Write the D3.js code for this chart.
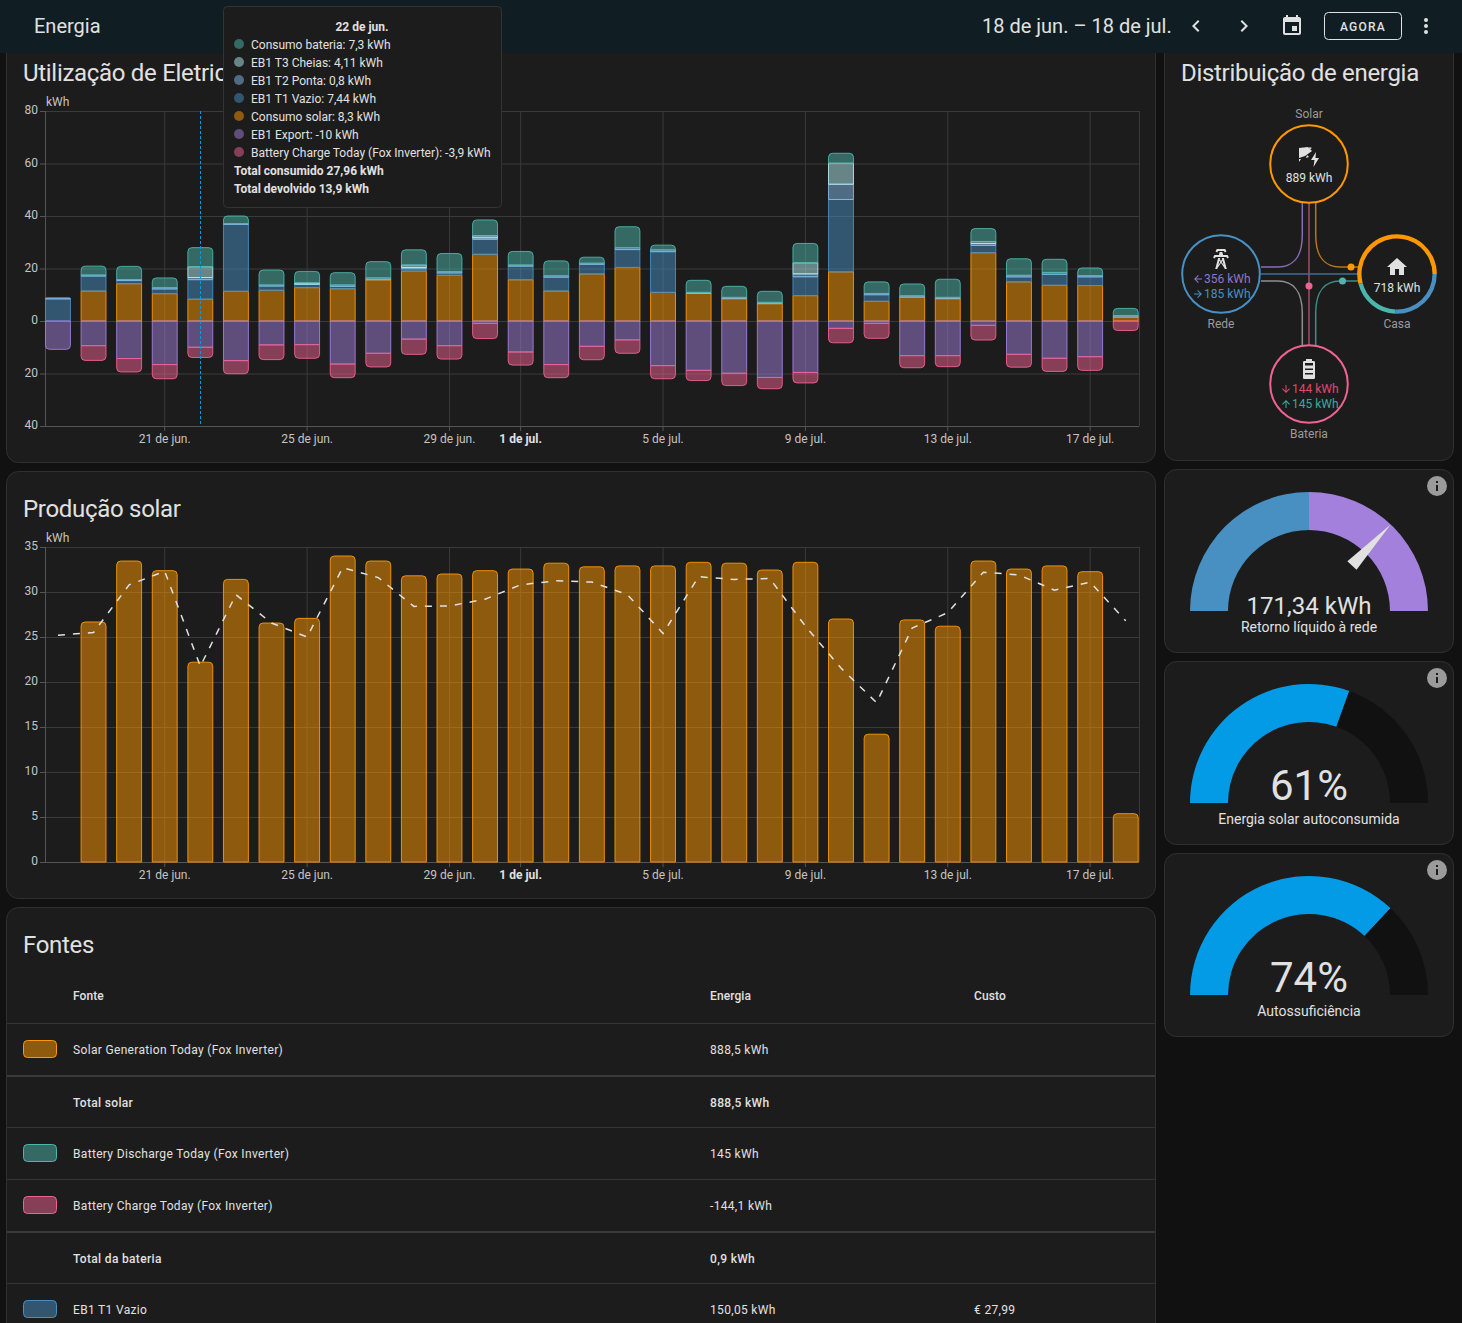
<!DOCTYPE html>
<html lang="pt">
<head>
<meta charset="utf-8">
<title>Energia</title>
<script src="https://cdn.jsdelivr.net/npm/d3@7/dist/d3.min.js"></script>
<style>
  html, body { margin: 0; background: #111; overflow: hidden; }
  svg { display: block; font-family: Roboto, sans-serif; }
</style>
</head>
<body>
<svg id="page" width="1462" height="1323"></svg>
<script>
// values
const days = ["18 de jun.","19 de jun.","20 de jun.","21 de jun.","22 de jun.","23 de jun.","24 de jun.","25 de jun.","26 de jun.","27 de jun.","28 de jun.","29 de jun.","30 de jun.","1 de jul.","2 de jul.","3 de jul.","4 de jul.","5 de jul.","6 de jul.","7 de jul.","8 de jul.","9 de jul.","10 de jul.","11 de jul.","12 de jul.","13 de jul.","14 de jul.","15 de jul.","16 de jul.","17 de jul.","18 de jul."];
const tickDays = ["21 de jun.","25 de jun.","29 de jun.","1 de jul.","5 de jul.","9 de jul.","13 de jul.","17 de jul."];

const solarUsed  = [0,11.4,14.2,10.4,8.3,11.3,11.7,12.7,12.3,15.7,19,17.4,25.4,15.7,11.4,17.9,20.4,10.9,10.5,8.5,6.6,9.65,18.7,7.5,9.1,8.5,26,14.9,13.6,13.5,1.5];
const t1Vazio    = [8.4,5.7,1.2,1.8,7.44,25.5,1.6,1.2,0.9,0,0.9,0.9,5.7,5.2,5.3,3.7,6.8,15.5,0,0,0,7.2,27.6,2.5,0,0,2.8,1.9,4.2,3.3,0];
const t2Ponta    = [0.4,0.4,0.4,0.5,0.8,0.3,0.4,0.2,0.5,0.7,0.5,0.5,0.6,0.4,0.5,0.4,0.7,0.7,0.4,0.5,0.5,1.1,5.8,0.5,0.5,0.5,0.7,0.6,0.7,0.5,0.6];
const t3Cheias   = [0,0,0,0,4.11,0,0,0.4,0,0,0.9,0,0.8,0,0,0,0,0,0,0,0,4.2,8,0,0,0,0.8,0,0,0,0];
const batteryOut = [0,3.4,5,3.7,7.3,2.9,5.7,4.4,4.7,6.2,5.8,6.9,6,5.2,5.7,2.3,8,1.8,4.6,4.2,4.2,7.4,3.8,4.4,4.5,6.9,4.9,6.3,5,2.9,2.7];
const gridExport = [-10.8,-9.4,-14.3,-16.6,-10,-15.1,-9.1,-9,-16.4,-12.3,-6.9,-9.4,-0.9,-11.8,-16.6,-9.65,-7.2,-17,-18.8,-19.9,-21.5,-19.6,-2.8,-0.9,-13.2,-13.2,-1.65,-12.7,-14.2,-13.6,0];
const batteryIn  = [0,-5.6,-5.1,-5.4,-3.9,-5,-5.6,-5.2,-5.2,-5.2,-5.8,-5.1,-5.8,-5,-5,-5.1,-5.1,-5,-3.9,-4.7,-4.3,-4,-5.5,-5.7,-4.6,-4.2,-5.6,-4.9,-5,-5.2,-3.6];

const solarProduction = [0,26.67,33.44,32.37,22.2,31.4,26.55,27.07,34,33.44,31.8,32,32.37,32.55,33.2,32.8,32.9,32.9,33.3,33.2,32.44,33.3,27,14.2,26.9,26.2,33.44,32.55,32.9,32.26,5.37];
const solarForecast = [25.2,25.5,30.8,32.3,21.75,29.7,26.55,25,32.7,31.6,28.4,28.45,29.2,30.8,31.25,31.1,29.7,25.4,31.7,31.4,31.5,26.2,21.55,17.7,26,27.7,32.2,31.9,30.2,31.1,26.8];

const usageTicks = [-40,-20,0,20,40,60,80];
const solarTicks = [0,5,10,15,20,25,30,35];

const tooltipTitle = "22 de jun.";
const tooltipRows = ["Consumo bateria: 7,3 kWh","EB1 T3 Cheias: 4,11 kWh","EB1 T2 Ponta: 0,8 kWh","EB1 T1 Vazio: 7,44 kWh","Consumo solar: 8,3 kWh","EB1 Export: -10 kWh","Battery Charge Today (Fox Inverter): -3,9 kWh"];
const tooltipTotals = ["Total consumido 27,96 kWh","Total devolvido 13,9 kWh"];

const homeSources = [185,145,388]; // rede, bateria, solar
const gaugeMax = 356, gaugeReturn = 171.34, selfConsumed = 61, selfSufficient = 74;

const tableRows = [
  ["solar","Solar Generation Today (Fox Inverter)","888,5 kWh",""],
  [null,"Total solar","888,5 kWh",""],
  ["out","Battery Discharge Today (Fox Inverter)","145 kWh",""],
  ["in","Battery Charge Today (Fox Inverter)","-144,1 kWh",""],
  [null,"Total da bateria","0,9 kWh",""],
  ["t1","EB1 T1 Vazio","150,05 kWh","€ 27,99"]
];

// stack order bottom to top, then downward
const seriesKeys = ["solar","t1","t2","t3","out","export","in"];
const seriesValues = {solar:solarUsed,t1:t1Vazio,t2:t2Ponta,t3:t3Cheias,out:batteryOut,export:gridExport,in:batteryIn};
const strokes = {solar:"#ff9800",t1:"#488fc2",t2:"#84bbe8",t3:"#b2ebf2",out:"#4db6ac",export:"#a280db",in:"#f06292"};

const TEXT = "#e1e1e1", MUTED = "#9b9b9b", CARD = "#1c1c1c", EDGE = "#303030";
const GRID = "#3a3a3a", AXIS = "#555";

const svg = d3.select("#page");
svg.append("rect").attr("width",1462).attr("height",1323).attr("fill","#111");

function label(g, x, y, str, opts = {}) {
  return g.append("text").attr("x",x).attr("y",y).text(str)
    .attr("fill",opts.fill || TEXT)
    .attr("font-size",opts.size || 12)
    .attr("font-weight",opts.weight || 400)
    .attr("text-anchor",opts.anchor || "start")
    .attr("letter-spacing",opts.spacing || null);
}

function title(x, y, str) {
  return label(svg, x, y, str, {size:24, spacing:-.3});
}

function icon(g, x, y, size, d, fill) {
  return g.append("path").attr("d",d).attr("fill",fill || TEXT)
    .attr("transform",`translate(${x},${y}) scale(${size/24})`);
}

function card(x, y, w, h) {
  svg.append("rect").attr("x",x+.5).attr("y",y+.5).attr("width",w-1).attr("height",h-1)
    .attr("rx",12).attr("fill",CARD).attr("stroke",EDGE);
}

// bar segment, only the outer end gets rounded
function barPath(x, y0, y1, w, roundEnd) {
  const top = Math.min(y0,y1), bot = Math.max(y0,y1);
  const r = Math.min(4, bot-top, w/2);
  const p = d3.path();
  if (roundEnd === "top") {
    p.moveTo(x,bot); p.lineTo(x,top+r);
    p.arcTo(x,top,x+r,top,r); p.lineTo(x+w-r,top);
    p.arcTo(x+w,top,x+w,top+r,r); p.lineTo(x+w,bot); p.closePath();
  } else if (roundEnd === "bottom") {
    p.moveTo(x,top); p.lineTo(x,bot-r);
    p.arcTo(x,bot,x+r,bot,r); p.lineTo(x+w-r,bot);
    p.arcTo(x+w,bot,x+w,bot-r,r); p.lineTo(x+w,top); p.closePath();
  } else {
    p.rect(x,top,w,bot-top);
  }
  return p.toString();
}

const plotLeft = 45, plotRight = 1139;
const xBand = d3.scaleBand().domain(days).range([plotLeft+.5,1138.2]).paddingInner(.3).paddingOuter(0);

function drawFrame(yScale, yTicks, yTop, yBottom, tickFmt) {
  const g = svg.append("g").attr("font-family","Roboto, sans-serif");
  const yAxis = d3.axisLeft(yScale).tickValues(yTicks).tickFormat(tickFmt).tickSize(5).tickSizeOuter(0);
  const ya = g.append("g").attr("transform",`translate(${plotLeft},0)`).call(yAxis);
  ya.select(".domain").remove();
  ya.selectAll("line").attr("stroke",AXIS);
  ya.selectAll("text").attr("fill","#c4c4c4").attr("font-size",12).attr("font-family","Roboto, sans-serif")
    .attr("x",-7).attr("y",-1);

  g.append("g").selectAll("line").data(yTicks).join("line")
    .attr("x1",plotLeft).attr("x2",plotRight)
    .attr("y1",d => yScale(d)+.5).attr("y2",d => yScale(d)+.5)
    .attr("stroke",GRID);

  g.append("g").selectAll("line").data(tickDays).join("line")
    .attr("x1",d => xBand(d)+xBand.bandwidth()/2).attr("x2",d => xBand(d)+xBand.bandwidth()/2)
    .attr("y1",yTop).attr("y2",yBottom).attr("stroke",GRID);
  g.append("line").attr("x1",plotLeft+.5).attr("x2",plotLeft+.5).attr("y1",yTop).attr("y2",yBottom).attr("stroke",AXIS);
  g.append("line").attr("x1",plotRight+.5).attr("x2",plotRight+.5).attr("y1",yTop).attr("y2",yBottom).attr("stroke",GRID);
  g.append("line").attr("x1",plotLeft).attr("x2",plotRight).attr("y1",yBottom+.5).attr("y2",yBottom+.5).attr("stroke",AXIS);

  const xAxis = d3.axisBottom(xBand).tickValues(tickDays).tickSize(5).tickSizeOuter(0);
  const xa = g.append("g").attr("transform",`translate(0,${yBottom})`).call(xAxis);
  xa.select(".domain").remove();
  xa.selectAll("line").attr("stroke",AXIS);
  xa.selectAll("text").attr("font-size",12).attr("font-family","Roboto, sans-serif")
    .attr("y",8).attr("font-weight",d => d === "1 de jul." ? 700 : 400)
    .attr("fill",d => d === "1 de jul." ? TEXT : "#c4c4c4");
  label(g, 46, yTop-5, "kWh", {fill:"#c4c4c4"});
  return g;
}

// cards
card(6,-20,1150,483);
card(6,471,1150,428);
card(6,907,1150,440);
card(1164,-20,290,481);
card(1164,469,290,184);
card(1164,661,290,184);
card(1164,853,290,184);

// usage chart
title(23, 81, "Utilização de Eletricidade");
const yUsage = d3.scaleLinear().domain([-40,80]).range([426,111]);
drawFrame(yUsage, usageTicks, 111, 426, d => Math.abs(d));

const rows = days.map((d,i) => {
  const r = {day:d};
  seriesKeys.forEach(k => { r[k] = seriesValues[k][i]; });
  return r;
});
const stacked = d3.stack().keys(seriesKeys).offset(d3.stackOffsetDiverging)(rows);

const outerPos = days.map((d,i) => ["out","t3","t2","t1","solar"].find(k => seriesValues[k][i] > 0));
const outerNeg = days.map((d,i) => ["in","export"].find(k => seriesValues[k][i] < 0));

svg.append("g").selectAll("g").data(stacked).join("g")
  .attr("fill",s => strokes[s.key]).attr("fill-opacity",.5)
  .attr("stroke",s => strokes[s.key]).attr("stroke-width",1).attr("stroke-opacity",.9)
  .selectAll("path")
  .data(s => s.map((v,i) => ({key:s.key,i,v})).filter(o => o.v[0] !== o.v[1]))
  .join("path")
  .attr("d",o => {
    const round = outerPos[o.i] === o.key ? "top" : outerNeg[o.i] === o.key ? "bottom" : null;
    return barPath(xBand(days[o.i]), yUsage(o.v[0]), yUsage(o.v[1]), xBand.bandwidth(), round);
  });

// hover marker
const hoverX = Math.round(xBand(tooltipTitle)+xBand.bandwidth()/2)+.5;
svg.append("line").attr("x1",hoverX).attr("x2",hoverX).attr("y1",111).attr("y2",426)
  .attr("stroke","#039be5").attr("stroke-dasharray","3,2").attr("stroke-width",1);

// solar chart
title(23, 517, "Produção solar");
const ySolar = d3.scaleLinear().domain([0,35]).range([862,547]);
drawFrame(ySolar, solarTicks, 547, 862, d => d);

svg.append("g").selectAll("path").data(solarProduction.map((v,i) => ({v,i})).filter(o => o.v > 0)).join("path")
  .attr("fill",strokes.solar).attr("fill-opacity",.5)
  .attr("stroke",strokes.solar).attr("stroke-width",1).attr("stroke-opacity",.9)
  .attr("d",o => barPath(xBand(days[o.i]), ySolar(0), ySolar(o.v), xBand.bandwidth(), "top"));

const forecastLine = d3.line()
  .x((d,i) => xBand(days[i])+xBand.bandwidth()/2)
  .y(d => ySolar(d));
svg.append("path").attr("d",forecastLine(solarForecast)).attr("fill","none")
  .attr("stroke",TEXT).attr("stroke-width",1.5).attr("stroke-dasharray","7,8");

// sources table
title(23, 953, "Fontes");
const tableCols = [73,710,974];
const headRow = ["Fonte","Energia","Custo"];
headRow.forEach((h,i) => label(svg, tableCols[i], 1000, h, {weight:500, spacing:.1}));
const rowLines = [1023,1075,1127,1179,1231,1283];
const rowBase = [1054,1107,1158,1210,1263,1314];
rowLines.forEach((y,i) => {
  const heavy = i === 1 || i === 4;
  svg.append("rect").attr("x",7).attr("y",y).attr("width",1148).attr("height",heavy ? 2 : 1).attr("fill",heavy ? "#3a3a3a" : "#333");
});
tableRows.forEach((r,i) => {
  const y = rowBase[i], strong = r[0] === null;
  if (r[0]) {
    svg.append("rect").attr("x",23.5).attr("y",y-13.5).attr("width",33).attr("height",17).attr("rx",4)
      .attr("fill",strokes[r[0]]).attr("fill-opacity",.5).attr("stroke",strokes[r[0]]);
  }
  label(svg, tableCols[0], y, r[1], {weight:strong ? 500 : 400, spacing:.33});
  label(svg, tableCols[1], y, r[2], {weight:strong ? 500 : 400, spacing:.33});
  if (r[3]) label(svg, tableCols[2], y, r[3], {spacing:.33});
});

// energy distribution
title(1181, 81, "Distribuição de energia");
const flow = svg.append("g").attr("fill","none");
const flowPaths = [
  ["#8a6bb8","M1302.3 203V235C1302.3 258 1292 267 1278 267H1261"],
  ["#b5771a","M1315.7 203V235C1315.7 258 1326 267 1340 267H1358"],
  ["#a84a6c","M1309 203V345"],
  ["#3d6f94","M1261 274H1358"],
  ["#8f8f8f","M1302.3 345V313C1302.3 290 1292 281 1278 281H1261"],
  ["#3c8f88","M1315.7 345V313C1315.7 290 1326 281 1340 281H1358"]
];
flowPaths.forEach(p => flow.append("path").attr("d",p[1]).attr("stroke",p[0]).attr("stroke-width",1.5));
svg.append("circle").attr("cx",1351).attr("cy",267).attr("r",3.5).attr("fill",strokes.solar);
svg.append("circle").attr("cx",1342.5).attr("cy",281).attr("r",3.5).attr("fill",strokes.out);
svg.append("circle").attr("cx",1309).attr("cy",286).attr("r",3.5).attr("fill",strokes.in);

const circles = [[1309,164,strokes.solar],[1221,274,strokes.t1],[1309,384,strokes.in]];
circles.forEach(c => svg.append("circle").attr("cx",c[0]).attr("cy",c[1]).attr("r",38.8)
  .attr("fill",CARD).attr("stroke",c[2]).attr("stroke-width",2));

// home ring is split by where the energy came from
const homeArc = d3.arc().innerRadius(35.5).outerRadius(39.8);
const homePie = d3.pie().sort(null).startAngle(Math.PI/2).endAngle(Math.PI*2.5)(homeSources);
svg.append("circle").attr("cx",1397).attr("cy",274).attr("r",39).attr("fill",CARD);
svg.append("g").attr("transform","translate(1397,274)").selectAll("path").data(homePie).join("path")
  .attr("d",homeArc).attr("fill",(d,i) => [strokes.t1,strokes.out,strokes.solar][i]);

label(svg,1309,118,"Solar",{fill:MUTED,anchor:"middle"});
label(svg,1221,328,"Rede",{fill:MUTED,anchor:"middle"});
label(svg,1397,328,"Casa",{fill:MUTED,anchor:"middle"});
label(svg,1309,438,"Bateria",{fill:MUTED,anchor:"middle"});
label(svg,1309,182,"889 kWh",{anchor:"middle"});
label(svg,1397,292,"718 kWh",{anchor:"middle"});
label(svg,1204,283,"356 kWh",{fill:"#8f76c9"});
label(svg,1204,298,"185 kWh",{fill:strokes.t1});
label(svg,1292,393,"144 kWh",{fill:"#e0486f"});
label(svg,1292,408,"145 kWh",{fill:"#3fa89d"});

const ARROW_LEFT = "M20,11V13H8L13.5,18.5L12.08,19.92L4.16,12L12.08,4.08L13.5,5.5L8,11H20Z";
const ARROW_RIGHT = "M4,11V13H16L10.5,18.5L11.92,19.92L19.84,12L11.92,4.08L10.5,5.5L16,11H4Z";
const ARROW_DOWN = "M11,4H13V16L18.5,10.5L19.92,11.92L12,19.84L4.08,11.92L5.5,10.5L11,16V4Z";
const ARROW_UP = "M13,20H11V8L5.5,13.5L4.08,12.08L12,4.16L19.92,12.08L18.5,13.5L13,8V20Z";
icon(svg,1192,273,12,ARROW_LEFT,"#8f76c9");
icon(svg,1192,288,12,ARROW_RIGHT,strokes.t1);
icon(svg,1280,383,12,ARROW_DOWN,"#e0486f");
icon(svg,1280,398,12,ARROW_UP,"#3fa89d");

icon(svg,1385,255,24,"M10,20V14H14V20H19V12H22L12,3L2,12H5V20H10Z");
icon(svg,1209,247,24,"M8.28,5.45L6.5,4.55L7.76,2H16.23L17.5,4.55L15.72,5.44L15,4H9L8.28,5.45M18.62,8H14.09L13.3,5H10.7L9.91,8H5.38L4.1,10.55L5.89,11.44L6.62,10H17.38L18.1,11.45L19.89,10.56L18.62,8M17.77,22H15.7L15.46,21.1L12,15.9L8.53,21.1L8.3,22H6.23L9.12,11H11.19L10.83,12.35L12,14.1L13.16,12.35L12.81,11H14.88L17.77,22M11.4,15L10.5,13.65L9.32,18.13L11.4,15M14.68,18.12L13.5,13.64L12.6,15L14.68,18.12Z");
icon(svg,1297,357,24,"M16,20H8V6H16M16.67,4H15V2H9V4H7.33A1.33,1.33 0 0,0 6,5.33V20.67C6,21.4 6.6,22 7.33,22H16.67A1.33,1.33 0 0,0 18,20.67V5.33C18,4.6 17.4,4 16.67,4Z");
[0,1,2].forEach(i => svg.append("rect").attr("x",1305).attr("y",365.5+i*4.5).attr("width",8).attr("height",3).attr("fill",TEXT));
// panel with sun rays and a bolt
svg.append("path").attr("fill",TEXT).attr("d","M1299 148L1308 147L1312 151L1305 156L1299 158Z");
svg.append("path").attr("fill",TEXT).attr("d","M1299 159L1301 159L1299 162ZM1309.5 147L1312 148L1309 150ZM1307 155L1309 157L1306 158Z");
svg.append("path").attr("fill",TEXT).attr("d","M1316 152L1311 160H1314.5L1313.5 167L1319 158H1315.5Z");

// gauges
const gaugeArc = d3.arc().innerRadius(81).outerRadius(119);
function gaugeSegments(cy, segs) {
  const g = svg.append("g").attr("transform",`translate(1309,${cy})`);
  g.selectAll("path").data(segs).join("path")
    .attr("d",s => gaugeArc({startAngle:s[0],endAngle:s[1]})).attr("fill",s => s[2]);
  return g;
}
const pctAngle = d3.scaleLinear().domain([0,100]).range([-Math.PI/2,Math.PI/2]);
const needleAngle = d3.scaleLinear().domain([-gaugeMax,gaugeMax]).range([-90,90]);

const g1 = gaugeSegments(611,[[-Math.PI/2,0,"#488fc2"],[0,Math.PI/2,"#a280db"]]);
g1.append("path").attr("d","M-6.3 -62.6L0 -119L6.3 -62.6Z").attr("fill",TEXT)
  .attr("transform",`rotate(${needleAngle(gaugeReturn)})`);
label(svg,1309,614,"171,34 kWh",{size:24,anchor:"middle"});
label(svg,1309,632,"Retorno líquido à rede",{size:14,anchor:"middle"});

gaugeSegments(803,[[pctAngle(0),pctAngle(selfConsumed),"#039be5"],[pctAngle(selfConsumed),pctAngle(100),"#111"]]);
label(svg,1309,800,selfConsumed+"%",{size:42,anchor:"middle"});
label(svg,1309,824,"Energia solar autoconsumida",{size:14,anchor:"middle"});

gaugeSegments(995,[[pctAngle(0),pctAngle(selfSufficient),"#039be5"],[pctAngle(selfSufficient),pctAngle(100),"#111"]]);
label(svg,1309,992,selfSufficient+"%",{size:42,anchor:"middle"});
label(svg,1309,1016,"Autossuficiência",{size:14,anchor:"middle"});

const INFO = "M13,9H11V7H13M13,17H11V11H13M12,2A10,10 0 0,0 2,12A10,10 0 0,0 12,22A10,10 0 0,0 22,12A10,10 0 0,0 12,2Z";
[474,666,858].forEach(y => icon(svg,1425,y,24,INFO,MUTED));

// header bar
svg.append("rect").attr("width",1462).attr("height",53).attr("fill","#101e24");
label(svg,34,33,"Energia",{size:20});
label(svg,982,33,"18 de jun. – 18 de jul.",{size:20});
icon(svg,1184,14,24,"M15.41,16.58L10.83,12L15.41,7.41L14,6L8,12L14,18L15.41,16.58Z");
icon(svg,1232,14,24,"M8.59,16.58L13.17,12L8.59,7.41L10,6L16,12L10,18L8.59,16.58Z");
icon(svg,1280,14,24,"M19,19H5V8H19M16,1V3H8V1H6V3H5C3.89,3 3,3.89 3,5V19A2,2 0 0,0 5,21H19A2,2 0 0,0 21,19V5C21,3.89 20.1,3 19,3H18V1M17,12H12V17H17V12Z");
svg.append("rect").attr("x",1324.5).attr("y",12.5).attr("width",77).attr("height",27).attr("rx",4)
  .attr("fill","none").attr("stroke",TEXT);
label(svg,1363,31,"AGORA",{weight:500,anchor:"middle",spacing:1.25});
icon(svg,1414,14,24,"M12,16A2,2 0 0,1 14,18A2,2 0 0,1 12,20A2,2 0 0,1 10,18A2,2 0 0,1 12,16M12,10A2,2 0 0,1 14,12A2,2 0 0,1 12,14A2,2 0 0,1 10,12A2,2 0 0,1 12,10M12,4A2,2 0 0,1 14,6A2,2 0 0,1 12,8A2,2 0 0,1 10,6A2,2 0 0,1 12,4Z");

// tooltip
const tip = svg.append("g");
tip.append("rect").attr("x",223.5).attr("y",6.5).attr("width",278).attr("height",201).attr("rx",4)
  .attr("fill",CARD).attr("stroke","#333");
label(tip,362,31,tooltipTitle,{weight:700,anchor:"middle"});
const tipKeys = ["out","t3","t2","t1","solar","export","in"];
tooltipRows.forEach((t,i) => {
  tip.append("circle").attr("cx",239).attr("cy",44+i*18).attr("r",5)
    .attr("fill",strokes[tipKeys[i]]).attr("fill-opacity",.5);
  label(tip,251,49+i*18,t);
});
tooltipTotals.forEach((t,i) => label(tip,234,175+i*18,t,{weight:700}));
</script>
</body>
</html>
